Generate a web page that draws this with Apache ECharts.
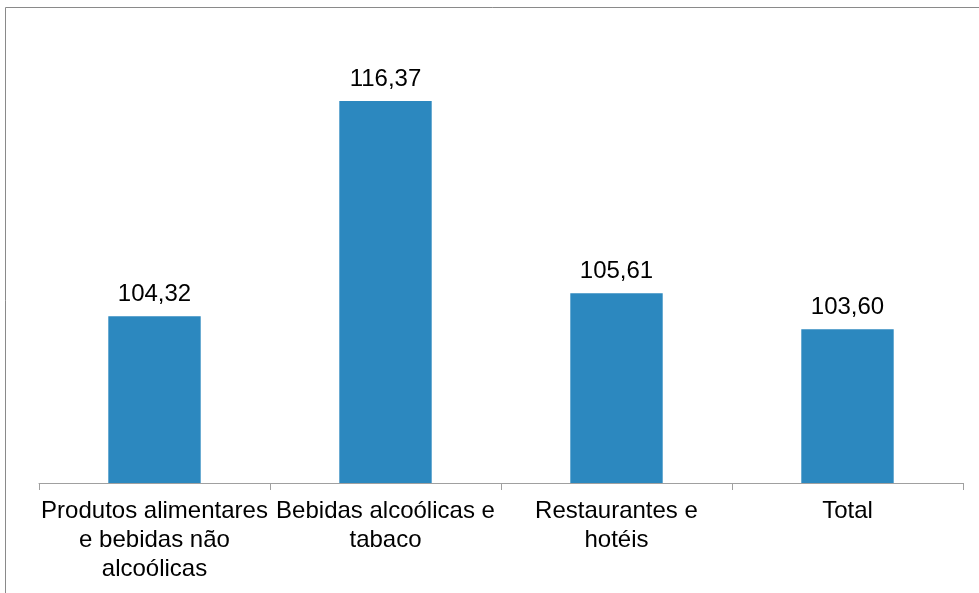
<!DOCTYPE html>
<html>
<head>
<meta charset="utf-8">
<script src="https://cdn.jsdelivr.net/npm/echarts@6/dist/echarts.min.js"></script>
<style>
  html, body { margin: 0; padding: 0; background: #fff; }
  #chart { width: 979px; height: 593px; }
</style>
</head>
<body>
<div id="chart"></div>
<script>
// Category labels (line breaks as shown under the axis)
const categories = [
  'Produtos alimentares\ne bebidas não\nalcoólicas',
  'Bebidas alcoólicas e\ntabaco',
  'Restaurantes e\nhotéis',
  'Total'
];
// Index values
const values = [104.32, 116.37, 105.61, 103.60];

const fmt = v => v.toFixed(2).replace('.', ',');

const chart = echarts.init(document.getElementById('chart'));
chart.setOption({
  animation: false,
  backgroundColor: '#ffffff',
  textStyle: { fontFamily: 'Liberation Sans, Arial, sans-serif' },
  graphic: [{
    type: 'rect',
    shape: { x: 5.5, y: 7.5, width: 1200, height: 1200 },
    style: { fill: 'none', stroke: '#8a8a8a', lineWidth: 1 },
    silent: true
  }],
  grid: { left: 39, right: 16, top: 36, bottom: 110, containLabel: false },
  xAxis: {
    type: 'category',
    data: categories,
    axisLine: { show: true, lineStyle: { color: '#a0a0a0', width: 1 } },
    axisTick: { show: true, length: 7, lineStyle: { color: '#a0a0a0' } },
    axisLabel: {
      color: '#000',
      fontSize: 24,
      lineHeight: 29,
      margin: 14,
      interval: 0,
      fontFamily: 'Liberation Sans, Arial, sans-serif'
    }
  },
  yAxis: {
    type: 'value',
    min: 95,
    max: 120,
    show: false,
    splitLine: { show: false }
  },
  series: [{
    type: 'bar',
    data: values,
    barWidth: '40%',
    itemStyle: { color: '#2c88bf' },
    label: {
      show: true,
      position: 'top',
      distance: 10,
      color: '#000',
      fontSize: 24,
      fontFamily: 'Liberation Sans, Arial, sans-serif',
      formatter: p => fmt(p.value)
    }
  }]
});
</script>
</body>
</html>
